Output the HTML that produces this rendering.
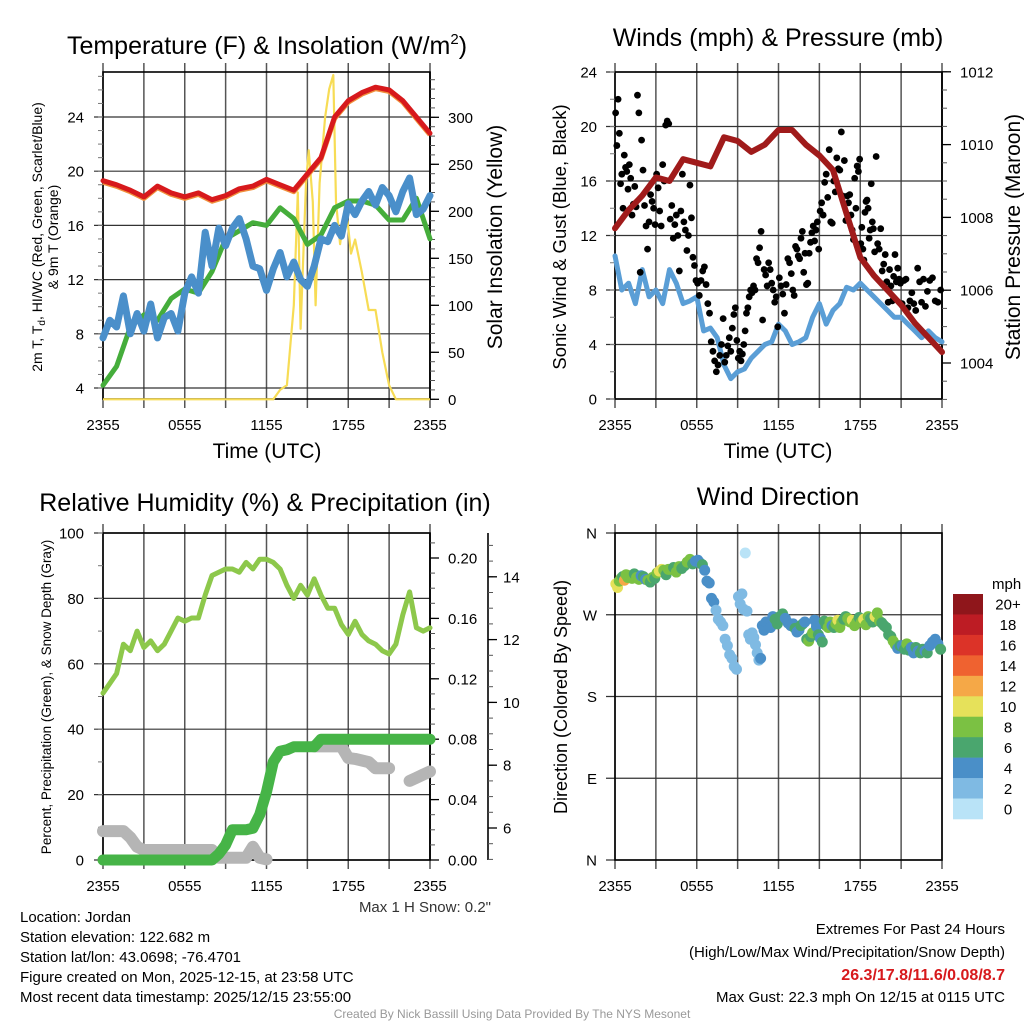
<!DOCTYPE html>
<html><head><meta charset="utf-8"><style>
html,body{margin:0;padding:0;background:#fff;}
svg{display:block;font-family:"Liberation Sans",Arial,sans-serif;}
</style></head><body>
<svg id="c" width="1024" height="1024" xmlns="http://www.w3.org/2000/svg"></svg>
<script>
// ---------- DATA ----------
const timeLabels=['2355','0555','1155','1755','2355'];
// Panel A
const tempRed=[19.3,19.0,18.6,18.1,18.9,18.4,18.1,18.4,17.9,18.2,18.7,18.9,19.4,19.0,18.6,19.8,21.0,24.0,25.2,25.8,26.2,26.0,25.2,24.0,22.8];
const dewGreen=[4.2,5.6,8.5,9.4,9.0,10.6,11.3,11.0,12.6,15.0,15.6,16.2,16.0,17.3,16.5,14.6,15.3,17.3,17.8,17.8,17.5,16.4,16.4,18.0,15.0];
const tempBlue=[7.7,9.0,8.5,10.8,8.0,9.5,8.2,10.2,7.7,9.2,9.5,8.2,11.0,12.2,11.0,15.5,13.0,15.8,14.5,15.8,16.5,15.0,13.0,12.8,11.2,12.8,14.0,12.2,13.3,12.0,11.5,13.0,15.0,14.8,16.0,15.2,17.6,16.8,17.8,18.5,17.5,18.8,18.2,17.0,18.5,19.5,16.8,17.2,18.2];
const solarHours=[0,12.5,13,13.5,14,14.3,14.5,14.9,15.1,15.4,15.6,15.9,16.3,16.6,16.9,17.1,17.4,17.8,18.2,18.5,19,19.5,20,20.5,21,21.5,24];
const solarValues=[0,0,10,15,100,220,75,230,265,210,100,230,300,330,345,210,165,210,155,170,135,95,95,50,15,0,0];
const tempTicks=[4,8,12,16,20,24];
const solarTicks=[0,50,100,150,200,250,300];
// Panel B
const windBlue=[10.5,8,8.5,7,9.5,7.5,8,7,9.5,8.5,7,7.2,7.5,5,5.2,4.5,2.5,1.5,2,2.2,3,3.5,4,4.2,5.5,5,4,4.2,4.5,6,7,5.5,6.5,7,8.2,8,8.5,8,7.5,7,6.5,6,6,5.5,5,4.5,5,4.5,4.2];
const pressure=[1007.7,1008.2,1008.6,1009.1,1009.0,1009.6,1009.5,1009.4,1010.2,1010.1,1009.8,1010.0,1010.4,1010.4,1010.0,1009.7,1009.3,1008.1,1006.9,1006.4,1006.0,1005.6,1005.1,1004.7,1004.3];
const gustByHour=[
[21,18.6,22,19.5,15.8,16.5,14,17.9,17,16.7,15.4],
[17.2,16.2,13.5,14.3,15.6,14.1,22.3,21,9.3,19],
[16.8,14.2,12.7,11,13,15,14.5,14,12.8],
[16.5,15.5,13.8,12.7,17.2,16,20.1,20.4,20.2],
[13.2,14.2,11.8,12.8,13.5,12,9.4,13.8,16.5],
[13,12.4,10.9,12,15.7,13.3,10.4,9.8,8.7],
[8.5,7.6,8.7,9.4,9.7,8.4,7,6.3],
[4.2,3.5,2.8,2,2.5,3.2,4,5.9],
[2.7,3.2,3.9,4.5,3.5,5.2,6.2,6.7,4.3],
[3,3.5,2.8,3.3,4,5,6.3,6.7,7.5,8],
[7.8,8.3,8,10.3,10,11.1,12.3,5.8,9.5],
[9.1,8.3,10,9.5,8.5,8,7.1,7.5,5.3],
[8.9,8.3,7.7,6.3,8.4,10.3,10,9.2],
[8,7.6,11.2,11,10.5,10.3,11.8,12.3,9.3,10.7],
[8.4,8.5,10.7,11.5,12.2,12.7,11.6,12.4,13,11],
[13.8,14.4,13.5,15.9,16.5,14.8,18.3,13,12.9],
[16,15.2,17.7,16.9,16.8,19.6,14.9,17.5,13.1],
[14.9,14.4,15,13.5,12.4,11.7,16.2,14,17.1,16.7,17.6],
[11.4,12.6,11,10.2,13.7,14.5,14.6,14,11.8,12.4,15.8,13,12.5],
[10.8,17.8,11.4,11,12.5,9.4,9.9,10.6,8.6],
[7.1,9.5,8.3,7.2,9,10.6,8.6,9.6,8.8,8.5],
[7,8.7,8.8,6.7,7.2,7.8,7],
[6.5,9.6,8.6,7.1,8.8,6.8,7.9],
[8.7,8.9,7.2,7.1,8]];
const windTicks=[0,4,8,12,16,20,24];
const pressTicks=[1004,1006,1008,1010,1012];
// Panel C
const rhValues=[51,54,57,66,64,70,65,67,64,66,70,74,73,74,74,81,87,88,89,89,88,91,89,92,92,91,89,84,80,84,81,86,81,77,77,72,69,73,69,67,66,64,63,66,75,82,71,70,71];
const precipValues=[0,0,0,0,0,0,0,0,0,0,0,0,0,0,0,0,0,0.004,0.01,0.02,0.02,0.02,0.021,0.03,0.045,0.065,0.072,0.073,0.075,0.075,0.075,0.075,0.08,0.08,0.08,0.08,0.08,0.08,0.08,0.08,0.08,0.08,0.08,0.08,0.08,0.08,0.08,0.08,0.08];
const snowDepth=[5.9,5.9,5.9,5.9,5.7,5.4,5.3,5.3,5.3,5.3,5.3,5.3,5.3,5.3,5.3,5.3,5.3,5.05,5.05,5.05,5.05,5.05,5.4,5.05,5.0,null,null,null,null,null,null,8.6,8.6,8.6,8.6,8.6,8.23,8.2,8.15,8.1,7.9,7.9,7.9,null,null,7.5,7.6,7.7,7.8];
const pctTicks=[0,20,40,60,80,100];
const precipTicks=[0,0.04,0.08,0.12,0.16,0.20];
const snowTicks=[6,8,10,12,14];
// Panel D
const dirByHour=[
[304,300,307,310,312,308,314,311],[313,310,315,311,309,313],[312,309,308,306,311,310],[316,318,320,319,314,320],
[320,322,317,323,321],[324,328,331,326,329],[330,327,325,319,307,305],[288,284,275,265,262,258],
[243,236,226,222,213,210],[290,282,293,276,338,274,248,243],[250,245,237,228,220,222,258,253],[262,260,256,268,265,260],
[268,271,266,261,258],[260,255,251,253,258,260,262],[243,241,246,250,264,257,248],[244,240,263,258,256,262,258],
[256,260,264,256,262,265,268],[266,262,264,258,262,267],[262,265,259,268,266,262],[268,272,263,261,258,256],
[248,246,241,237,233,236],[236,232,238,231,234,228],[234,230,228,232,230,228],[236,240,243,238,232]];
const spdByHour=[
[10,10,8,8,6,12,7,8],[8,8,6,7,8,4],[6,4,8,6,8,6],[8,10,10,8,6,8],
[8,6,8,8,6],[6,8,8,6,4],[4,4,6,4,4,3],[3,3,2,2,1,1],
[2,2,2,2,2,1],[2,2,2,2,0,2,2,2],[2,2,2,2,2,4,4,4],[4,4,4,4,6,6],
[6,6,4,4,4],[4,6,4,4,6,6,4],[6,8,6,8,4,4,6],[4,6,6,6,8,8,4],
[6,8,10,8,8,6,6],[8,8,10,8,8,6],[8,10,8,8,6,6],[10,8,8,6,6,6],
[6,6,8,8,4,6],[4,6,8,6,4,4],[6,4,6,6,4,6],[4,4,4,4,6]];
const dirTicks=[0,90,180,270,360];
const dirLabels=['N','E','S','W','N'];
const legendLabels=['0','2','4','6','8','10','12','14','16','18','20+'];
const legendColors=['#b9e3f7','#7fbae3','#4a8fc8','#4aa66e','#7bc143','#e6e15a','#f5a847','#ef6230','#dc3328','#bd1c24','#8f161b'];

// ---------- HELPERS ----------
const NS='http://www.w3.org/2000/svg';
const svg=document.getElementById('c');
function mk(tag,attrs,parent){const e=document.createElementNS(NS,tag);for(const k in attrs)e.setAttribute(k,attrs[k]);(parent||svg).appendChild(e);return e;}
function txt(x,y,s,size,anchor,parent){const t=mk('text',{x:x,y:y,'font-size':size,'text-anchor':anchor||'start',fill:'#000'},parent);t.textContent=s;return t;}
function pathFrom(pts){let d='';let pen=false;pts.forEach(p=>{if(p==null){pen=false;return;}d+=(pen?'L':'M')+p[0].toFixed(1)+' '+p[1].toFixed(1);pen=true;});return d;}

function panel(name,X0,Y0,X1,Y1,yTickVals,ys,leftLabels,labelRight){
  const g=mk('g',{});
  
  
  const xs=h=>X0+h/24*(X1-X0);
  for(let i=0;i<=8;i++){const x=xs(i*3);
    const l=mk('line',{x1:x,x2:x,y1:Y0-9,y2:Y1+9,stroke:'#555','stroke-width':1.5},g);
    
    }
  yTickVals.forEach((v,i)=>{const y=ys(v);
    const l=mk('line',{x1:X0-9,x2:X1,y1:y,y2:y,stroke:'#333','stroke-width':1.2},g);
    
    
    const t=txt(labelRight,y+5.5,leftLabels[i],15,'end',g);
    
    });
  timeLabels.forEach((s,i)=>{const t=txt(xs(i*6),Y1+31,s,15,'middle',g);
    
    });
  const b=mk('rect',{x:X0,y:Y0,width:X1-X0,height:Y1-Y0,fill:'none',stroke:'#000','stroke-width':1.6},g);
  
  
  return {g,xs};
}
function rightAxis(g,X,Y0,Y1,ticks,ys,fmt,lblX,minorStep,minMin,minMax){
  const a=mk('line',{x1:X,x2:X,y1:Y0,y2:Y1,stroke:'#000','stroke-width':1.6},g);
  
  
  for(let v=minMin;v<=minMax+1e-9;v+=minorStep){const y=ys(v);if(y<Y0-0.5||y>Y1+0.5)continue;
    mk('line',{x1:X,x2:X+5,y1:y,y2:y,stroke:'#555','stroke-width':1},g);}
  ticks.forEach(v=>{const y=ys(v);
    mk('line',{x1:X,x2:X+9,y1:y,y2:y,stroke:'#000','stroke-width':1.3},g);
    const t=txt(lblX,y+5.5,fmt(v),15,'start',g);
    
    });
}
function rotText(x,y,lines,size,name){
  const t=mk('text',{transform:`translate(${x},${y}) rotate(-90)`,'font-size':size,'text-anchor':'middle',fill:'#000'});
  
  
  lines.forEach((s,i)=>{const sp=mk('tspan',{x:0,dy:i?size*1.15:0},t);sp.textContent=s;});
  return t;
}

// ---------- PANEL A ----------
(function(){
  const X0=103,X1=430,Y0=72,Y1=399;
  const yL=v=>388-(v-4)*13.55, yR=v=>399.3-v*0.94;
  const P=panel('temperature-panel',X0,Y0,X1,Y1,tempTicks,yL,tempTicks.map(String),84);
  const {g,xs}=P;
  for(let v=4;v<=27;v+=1){const y=yL(v);mk('line',{x1:X0-5,x2:X0,y1:y,y2:y,stroke:'#777','stroke-width':1},g);}
  rightAxis(g,X1,Y0,Y1,solarTicks,yR,v=>String(v),448,10,0,340);
  const solar=mk('path',{d:pathFrom(solarHours.map((h,i)=>[xs(h),Math.max(Y0,yR(solarValues[i]))])),fill:'none',stroke:'#f7dc55','stroke-width':2.2,'stroke-linejoin':'round'},g);
  
  
  const gr=mk('path',{d:pathFrom(dewGreen.map((v,i)=>[xs(i),yL(v)])),fill:'none',stroke:'#45ad3b','stroke-width':5,'stroke-linejoin':'round','stroke-linecap':'round'},g);
  
  
  const bl=mk('path',{d:pathFrom(tempBlue.map((v,i)=>[xs(i*0.5),yL(v)])),fill:'none',stroke:'#4a8fca','stroke-width':7,'stroke-linejoin':'round','stroke-linecap':'round'},g);
  
  
  const or=mk('path',{d:pathFrom(tempRed.map((v,i)=>[xs(i),yL(v)+1.5])),fill:'none',stroke:'#f0903c','stroke-width':5,'stroke-linejoin':'round'},g);
  
  
  const rd=mk('path',{d:pathFrom(tempRed.map((v,i)=>[xs(i),yL(v)])),fill:'none',stroke:'#d7191c','stroke-width':5,'stroke-linejoin':'round','stroke-linecap':'round'},g);
  
  
})();

// ---------- PANEL B ----------
(function(){
  const X0=615,X1=942,Y0=72,Y1=399;
  const yL=v=>399-v*13.625, yP=p=>363-(p-1004)*36.4;
  const P=panel('winds-panel',X0,Y0,X1,Y1,windTicks,yL,windTicks.map(String),597);
  const {g,xs}=P;
  for(let v=0;v<=24;v+=2){const y=yL(v);mk('line',{x1:X0-5,x2:X0,y1:y,y2:y,stroke:'#777','stroke-width':1},g);}
  rightAxis(g,X1,Y0,Y1,pressTicks,yP,v=>String(v),960,0.5,1003,1012);
  const bl=mk('path',{d:pathFrom(windBlue.map((v,i)=>[xs(i*0.5),yL(v)])),fill:'none',stroke:'#5a9ed6','stroke-width':5,'stroke-linejoin':'round','stroke-linecap':'round'},g);
  
  
  gustByHour.forEach((arr,h)=>arr.forEach((v,i)=>{
    const c=mk('circle',{cx:xs(h+(i+0.5)/arr.length),cy:yL(v),r:3.4,fill:'#000'},g);
    
    
  }));
  const pr=mk('path',{d:pathFrom(pressure.map((v,i)=>[xs(i),yP(v)])),fill:'none',stroke:'#a01b1b','stroke-width':6,'stroke-linejoin':'round','stroke-linecap':'round'},g);
  
  
})();

// ---------- PANEL C ----------
(function(){
  const X0=103,X1=430,Y0=533,Y1=860;
  const yL=v=>860-v*3.27, yR=p=>860-p*1510, yS=s=>828-(s-6)*31.4;
  const P=panel('humidity-panel',X0,Y0,X1,Y1,pctTicks,yL,pctTicks.map(String),84);
  const {g,xs}=P;
  for(let v=0;v<=100;v+=10){const y=yL(v);mk('line',{x1:X0-5,x2:X0,y1:y,y2:y,stroke:'#777','stroke-width':1},g);}
  rightAxis(g,X1,Y0,Y1,precipTicks,yR,v=>v.toFixed(2),448,0.01,0,0.21);
  rightAxis(g,488,Y0,Y1,snowTicks,yS,v=>String(v),503,0.5,5,15);
  const sn=mk('path',{d:pathFrom(snowDepth.map((v,i)=>v==null?null:[xs(i*0.5),yS(v)])),fill:'none',stroke:'#b5b5b5','stroke-width':12,'stroke-linejoin':'round','stroke-linecap':'round'},g);
  
  
  const pc=mk('path',{d:pathFrom(precipValues.map((v,i)=>[xs(i*0.5),yR(v)])),fill:'none',stroke:'#46b447','stroke-width':11,'stroke-linejoin':'round','stroke-linecap':'round'},g);
  
  
  const rh=mk('path',{d:pathFrom(rhValues.map((v,i)=>[xs(i*0.5),yL(v)])),fill:'none',stroke:'#8dc84b','stroke-width':5,'stroke-linejoin':'round','stroke-linecap':'round'},g);
  
  
})();

// ---------- PANEL D ----------
(function(){
  const X0=615,X1=942,Y0=533,Y1=860;
  const yD=d=>860-d*327/360;
  const P=panel('wind-direction-panel',X0,Y0,X1,Y1,dirTicks,yD,dirLabels,597);
  const {g,xs}=P;
  dirByHour.forEach((arr,h)=>arr.forEach((d,i)=>{
    const s=spdByHour[h][i];
    const idx=Math.min(10,Math.round(s/2));
    const c=mk('circle',{cx:xs(h+(i+0.5)/arr.length),cy:yD(d),r:5.5,fill:legendColors[idx]},g);
    
    
  }));
  const lg=mk('g',{});
  
  
  const mt=txt(992,589,'mph',15,'start',lg);
  
  
  const bh=225/11;
  legendColors.forEach((c,i)=>{const k=10-i;
    const r=mk('rect',{x:953,y:594+i*bh,width:30,height:bh+0.3,fill:legendColors[k]},lg);
    
    
    const t=txt(1008,594+i*bh+bh/2+5.5,legendLabels[k],15,'middle',lg);
    
    });
})();

// ---------- TITLES ----------
const tA=mk('text',{x:267,y:54,'font-size':25,'text-anchor':'middle'});


tA.appendChild(document.createTextNode('Temperature (F) & Insolation (W/m'));
const sup=mk('tspan',{dy:-10,'font-size':15},tA);sup.textContent='2';
const sup2=mk('tspan',{dy:10},tA);sup2.textContent=')';
const tB=txt(778,46,'Winds (mph) & Pressure (mb)',25,'middle');


const tC=txt(265,511,'Relative Humidity (%) & Precipitation (in)',25,'middle');


const tD=txt(778,505,'Wind Direction',25,'middle');


const xa=txt(267,458,'Time (UTC)',21,'middle');


const xb=txt(778,458,'Time (UTC)',21,'middle');


// temperature y title with subscript
const ty=mk('text',{transform:'translate(42,237) rotate(-90)','font-size':14,'text-anchor':'middle',fill:'#000'});


const ty1=mk('tspan',{x:0,dy:0},ty);ty1.textContent='2m T, T';
const tyd=mk('tspan',{dy:3,'font-size':10},ty);tyd.textContent='d';
const ty2=mk('tspan',{dy:-3},ty);ty2.textContent=', HI/WC (Red, Green, Scarlet/Blue)';
const ty3=mk('tspan',{x:0,dy:16},ty);ty3.textContent='& 9m T (Orange)';
rotText(502,237,['Solar Insolation (Yellow)'],21,'solar-y-title');
rotText(566,237,['Sonic Wind & Gust (Blue, Black)'],18.5,'wind-y-title');
rotText(1020,237,['Station Pressure (Maroon)'],21,'pressure-y-title');
rotText(51,697,['Percent, Precipitation (Green), & Snow Depth (Gray)'],13.5,'humidity-y-title');
rotText(567,697,['Direction (Colored By Speed)'],18,'direction-y-title');
const ms=txt(491,912,'Max 1 H Snow: 0.2"',15,'end');
ms.setAttribute('fill','#333');



// ---------- INFO TEXT ----------
const info=['Location: Jordan','Station elevation: 122.682 m','Station lat/lon: 43.0698; -76.4701','Figure created on Mon, 2025-12-15, at 23:58 UTC','Most recent data timestamp: 2025/12/15 23:55:00'];
info.forEach((s,i)=>{const t=txt(20,922+i*20,s,15,'start');
  
  });
const e1=txt(1005,934,'Extremes For Past 24 Hours',15,'end');


const e2=txt(1005,957,'(High/Low/Max Wind/Precipitation/Snow Depth)',15,'end');


const e3=txt(1005,980,'26.3/17.8/11.6/0.08/8.7',16,'end');
e3.setAttribute('fill','#d7191c');e3.setAttribute('font-weight','bold');


const e4=txt(1005,1002,'Max Gust: 22.3 mph On 12/15 at 0115 UTC',15,'end');


const ft=txt(512,1018,'Created By Nick Bassill Using Data Provided By The NYS Mesonet',12,'middle');
ft.setAttribute('fill','#999');


</script>
</body></html>
